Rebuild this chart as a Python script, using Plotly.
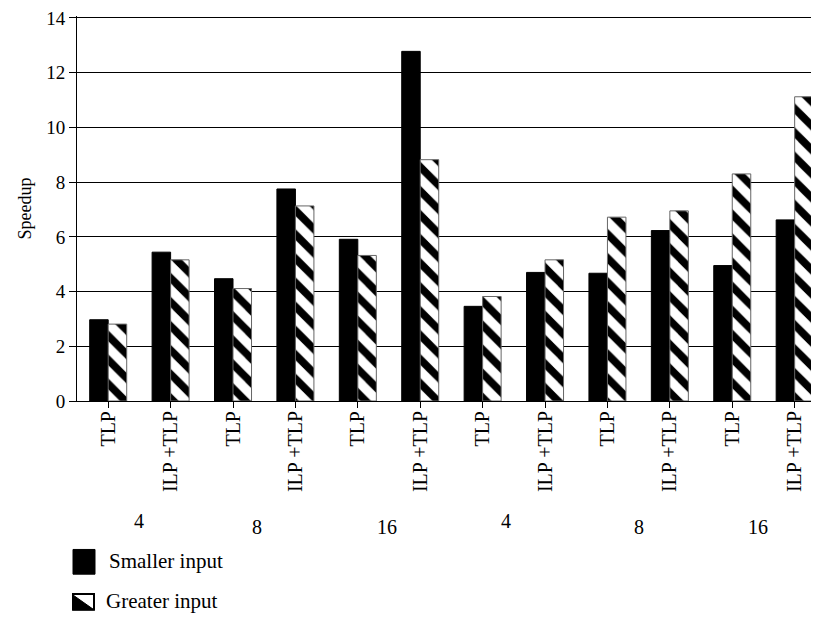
import plotly.graph_objects as go

# ---- data ----
categories = ["TLP", "ILP +TLP", "TLP", "ILP +TLP", "TLP", "ILP +TLP",
              "TLP", "ILP +TLP", "TLP", "ILP +TLP", "TLP", "ILP +TLP"]
groups = ["4", "8", "16", "4", "8", "16"]
smaller_input = [2.97, 5.44, 4.47, 7.75, 5.91, 12.78, 3.46, 4.70, 4.67, 6.23, 4.95, 6.62]
greater_input = [2.81, 5.16, 4.11, 7.13, 5.32, 8.82, 3.82, 5.16, 6.72, 6.95, 8.30, 11.12]
y_ticks = [0, 2, 4, 6, 8, 10, 12, 14]

FONT = "Liberation Serif"
OFF = 8                      # default page body margin
EXTRA = 2                    # a little headroom so the top gridline is drawn
W, H = 819 - OFF, 620 - OFF
L, R, T = 77 - OFF, 0, 14 - OFF - EXTRA
B = H - (401 - OFF)
PW, PH = W - L - R, H - T - B
Y_TOP = y_ticks[-1] * PH / (PH - EXTRA)

def px(xp):  # screen pixel -> paper x
    return (xp - OFF - L) / PW

def py(yp):  # screen pixel -> paper y
    return (H - B - (yp - OFF)) / PH

x = list(range(len(categories)))

fig = go.Figure()
fig.add_trace(go.Bar(
    x=x, y=smaller_input, name="Smaller input",
    marker=dict(color="black", line=dict(color="black", width=1)),
    showlegend=False,
))
fig.add_trace(go.Bar(
    x=x, y=greater_input, name="Greater input",
    marker=dict(color="white", line=dict(color="#666666", width=1),
                pattern=dict(shape="\\", fgcolor="black", bgcolor="white",
                             size=17, solidity=0.45, fillmode="replace")),
    showlegend=False,
))

# group labels below category labels
group_x = [0.5, 2.38, 4.46, 6.38, 8.5, 10.42]
group_y = [522, 528, 528, 522, 528, 528]
annotations = []
for g, gx, gy in zip(groups, group_x, group_y):
    annotations.append(dict(text=g, x=gx, xref="x", y=py(gy), yref="paper",
                            showarrow=False, xanchor="center", yanchor="middle",
                            font=dict(family=FONT, size=20, color="black")))

# legend (drawn manually to match the reference icons)
annotations.append(dict(text="Smaller input", x=px(107), xref="paper", y=py(563), yref="paper",
                        showarrow=False, xanchor="left", yanchor="middle",
                        font=dict(family=FONT, size=21, color="black")))
annotations.append(dict(text="Greater input", x=px(104), xref="paper", y=py(603), yref="paper",
                        showarrow=False, xanchor="left", yanchor="middle",
                        font=dict(family=FONT, size=21, color="black")))

shapes = [
    dict(type="rect", xref="paper", yref="paper", x0=px(73), x1=px(95), y0=py(576), y1=py(551),
         fillcolor="black", line=dict(color="black", width=1)),
    dict(type="path", xref="paper", yref="paper",
         path=f"M {px(73)},{py(597)} L {px(94)},{py(612)} L {px(73)},{py(612)} Z",
         fillcolor="black", line=dict(color="black", width=1)),
    dict(type="rect", xref="paper", yref="paper", x0=px(73), x1=px(94), y0=py(612), y1=py(596),
         fillcolor="rgba(0,0,0,0)", line=dict(color="black", width=2)),
]

fig.update_layout(
    width=W, height=H,
    margin=dict(l=L, r=R, t=T, b=B, pad=0),
    paper_bgcolor="white", plot_bgcolor="white",
    barmode="group", bargap=0.407, bargroupgap=0,
    font=dict(family=FONT, color="black"),
    annotations=annotations, shapes=shapes,
    xaxis=dict(
        range=[-0.5, 11.39], tickmode="array", tickvals=x, ticktext=categories,
        tickangle=-90, tickfont=dict(family=FONT, size=20, color="black"),
        ticks="outside", tickson="boundaries", ticklen=6, tickcolor="black",
        ticklabelstandoff=-5,
        showline=True, linecolor="black", linewidth=1, showgrid=False, zeroline=False,
    ),
    yaxis=dict(
        range=[0, Y_TOP], tickmode="array", tickvals=y_ticks,
        tickfont=dict(family=FONT, size=19, color="black"),
        ticklabeloverflow="allow",
        ticks="outside", ticklen=7, tickcolor="black",
        showline=True, linecolor="black", linewidth=1,
        showgrid=True, gridcolor="black", gridwidth=1.3, zeroline=False,
        title=dict(text="Speedup", font=dict(family=FONT, size=18, color="black"), standoff=9),
    ),
)

fig.write_html("out.html")
